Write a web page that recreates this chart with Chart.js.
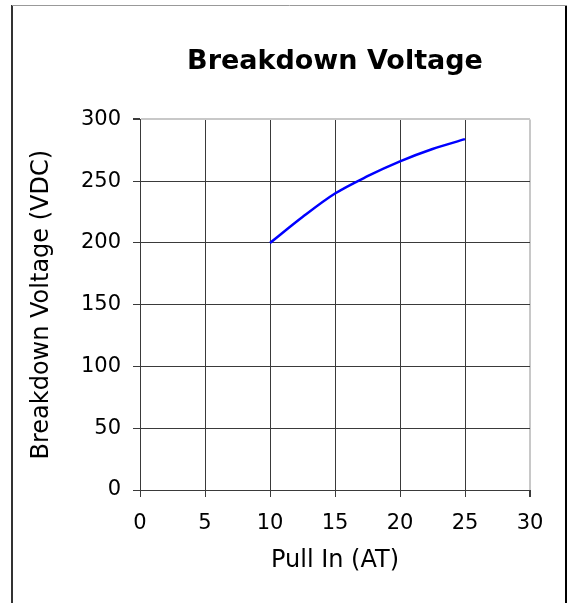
<!DOCTYPE html>
<html>
<head>
<meta charset="utf-8">
<title>Breakdown Voltage</title>
<script src="https://cdn.jsdelivr.net/npm/chart.js@4.4.1/dist/chart.umd.min.js"></script>
<style>
    html, body { margin: 0; padding: 0; background: #fff; }
    #wrap { position: relative; width: 571px; height: 603px; }
</style>
</head>
<body>
<div id="wrap"><canvas id="breakdown-chart" width="571" height="603"></canvas></div>
<script>
    "use strict";

    // Data
    var pullIn = [10, 12.5, 15, 17.5, 20, 22.5, 25];
    var voltage = [200, 221, 240, 254, 266, 276, 284];
    var xTicks = [0, 5, 10, 15, 20, 25, 30];
    var yTicks = [0, 50, 100, 150, 200, 250, 300];

    var points = pullIn.map(function (x, i) {
        return {x: x, y: voltage[i]};
    });

    var fontFamily = "'DejaVu Sans', Verdana, sans-serif";
    var gridDark = "#3a3a3a";
    var gridLight = "#c8c8c8";

    // Outer frame round the chart
    var framePlugin = {
        id: "frame",
        afterDraw: function (chart) {
            var c = chart.ctx;
            c.save();
            c.lineWidth = 2;
            c.strokeStyle = "#333";
            c.beginPath();
            c.moveTo(12, 5);
            c.lineTo(12, 603);
            c.stroke();
            c.strokeStyle = "#000";
            c.beginPath();
            c.moveTo(566, 5);
            c.lineTo(566, 603);
            c.stroke();
            c.lineWidth = 1;
            c.strokeStyle = "#999";
            c.beginPath();
            c.moveTo(12, 5.5);
            c.lineTo(567, 5.5);
            c.stroke();
            c.restore();
        }
    };

    var ctx = document.getElementById("breakdown-chart").getContext("2d");
    var myChart = new Chart(ctx, {
        type: "line",
        data: {
            datasets: [{
                label: "Breakdown Voltage",
                data: points,
                borderColor: "#0000ff",
                borderWidth: 2.5,
                pointRadius: 0,
                fill: false,
                cubicInterpolationMode: "monotone"
            }]
        },
        options: {
            responsive: false,
            animation: false,
            layout: {
                padding: {left: 0, right: 41, top: 0, bottom: 0}
            },
            plugins: {
                legend: {display: false},
                tooltip: {enabled: false},
                title: {
                    display: true,
                    text: "Breakdown Voltage",
                    fullSize: false,
                    color: "#000",
                    font: {family: fontFamily, size: 27, weight: "bold", lineHeight: 1.2},
                    padding: {top: 46, bottom: 41}
                }
            },
            scales: {
                x: {
                    type: "linear",
                    min: 0,
                    max: 30,
                    afterBuildTicks: function (scale) {
                        scale.ticks = xTicks.map(function (v) { return {value: v}; });
                    },
                    afterFit: function (scale) {
                        scale.height = 113;
                    },
                    ticks: {
                        color: "#000",
                        padding: 14,
                        maxRotation: 0,
                        font: {family: fontFamily, size: 21}
                    },
                    grid: {
                        color: function (c) {
                            return c.tick && c.tick.value === 30 ? gridLight : gridDark;
                        },
                        lineWidth: function (c) {
                            return c.tick && c.tick.value === 30 ? 2 : 1;
                        },
                        tickColor: gridDark,
                        tickLength: 7
                    },
                    border: {color: gridDark, width: 1},
                    title: {
                        display: true,
                        text: "Pull In (AT)",
                        color: "#000",
                        font: {family: fontFamily, size: 24, lineHeight: 1.2},
                        padding: {top: 0, bottom: 28}
                    }
                },
                y: {
                    min: 0,
                    max: 300,
                    afterBuildTicks: function (scale) {
                        scale.ticks = yTicks.map(function (v) { return {value: v}; });
                    },
                    afterFit: function (scale) {
                        scale.width = 140;
                    },
                    ticks: {
                        color: "#000",
                        padding: 12,
                        font: {family: fontFamily, size: 21}
                    },
                    grid: {
                        color: function (c) {
                            return c.tick && c.tick.value === 300 ? gridLight : gridDark;
                        },
                        lineWidth: function (c) {
                            return c.tick && c.tick.value === 300 ? 2 : 1;
                        },
                        tickColor: gridDark,
                        tickLength: 7
                    },
                    border: {color: gridDark, width: 1},
                    title: {
                        display: true,
                        text: "Breakdown Voltage (VDC)",
                        color: "#000",
                        font: {family: fontFamily, size: 24, lineHeight: 1.2},
                        padding: {top: 27, bottom: 0}
                    }
                }
            }
        },
        plugins: [framePlugin]
    });
</script>
</body>
</html>
